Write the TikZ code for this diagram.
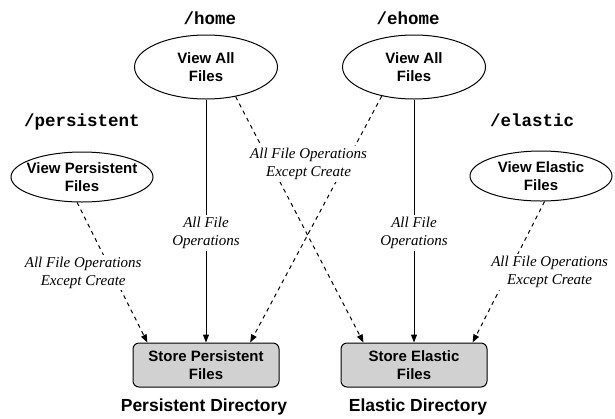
\documentclass[tikz,border=0pt]{standalone}
\usepackage{fontspec}
\setmainfont{Liberation Serif}
\setsansfont{Liberation Sans}
\setmonofont{Liberation Mono}
\usetikzlibrary{shapes.geometric,arrows.meta}

\begin{document}
\begin{tikzpicture}[x=1pt,y=-1pt,
  view/.style={ellipse,draw=black,line width=1pt,inner xsep=-8pt,inner ysep=0pt,
    minimum width=143pt,minimum height=64pt,align=center,
    font=\sffamily\bfseries\fontsize{15}{18}\selectfont},
  store/.style={rectangle,rounded corners=6pt,draw=black,line width=1pt,fill=black!18,
    minimum width=146pt,minimum height=44pt,align=center,
    font=\sffamily\bfseries\fontsize{15}{18}\selectfont},
  mount/.style={anchor=base,font=\ttfamily\bfseries\fontsize{17.5}{20}\selectfont},
  dir/.style={anchor=base,font=\sffamily\bfseries\fontsize{17.5}{20}\selectfont},
  ops/.style={fill=white,align=center,inner sep=2pt,
    font=\itshape\fontsize{15}{18}\selectfont},
  allop/.style={line width=1pt,-{Triangle[length=8pt,width=6pt]}},
  someop/.style={allop,dash pattern=on 4pt off 4pt}]

\useasboundingbox (0,0) rectangle (615,418);

\node[view] (H) at (206,67) {View All\\Files};
\node[view] (E) at (414,67) {View All\\Files};
\node[view,minimum width=142pt,minimum height=50pt] (P) at (82,177) {View Persistent\\Files};
\node[view,minimum width=142pt,minimum height=50pt] (X) at (541,176) {View Elastic\\Files};

\node[store] (SP) at (206,365) {Store Persistent\\Files};
\node[store] (SE) at (414,365) {Store Elastic\\Files};

\node[mount] (h) at (210,24.5) {/home};
\node[mount] (eh) at (408,24.5) {/ehome};
\node[mount] (p) at (82,126) {/persistent};
\node[mount] (x) at (532,126) {/elastic};

\node[dir] (pd) at (204,411.5) {Persistent Directory};
\node[dir] (ed) at (418,411.5) {Elastic Directory};

\draw[allop] (H) -- node[ops,pos=0.55] (o1) {All File\\Operations} (SP);
\draw[allop] (E) -- node[ops,pos=0.55] (o2) {All File\\Operations} (SE);

\draw[someop] (P.-101) -- node[ops,xshift=-29pt] (o3) {All File Operations\\Except Create} (SP.159);
\draw[someop] (X.-82) -- node[ops,xshift=41pt] (o4) {All File Operations\\Except Create} (SE.21);
\draw[someop] (H.-45) -- (SE.156);
\draw[someop] (E.-138) -- node[ops,pos=0.275,xshift=-37pt] (o5) {All File Operations\\Except Create} (SP.27);

\end{tikzpicture}
\end{document}
